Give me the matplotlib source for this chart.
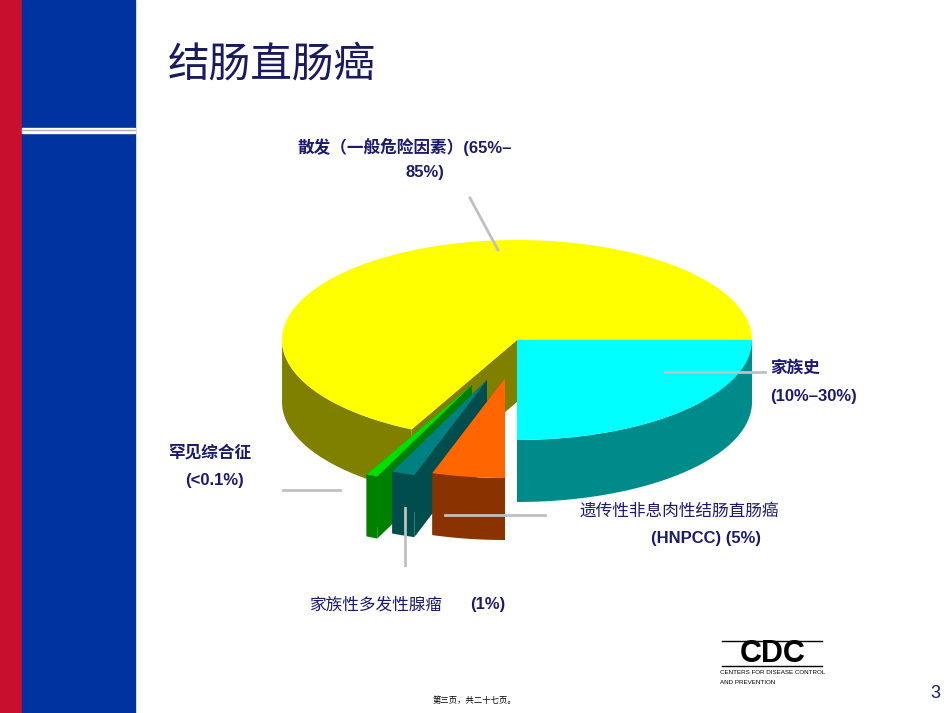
import matplotlib
matplotlib.use("Agg")
import matplotlib.pyplot as plt
import numpy as np
from matplotlib.patches import Polygon, Rectangle

plt.rcParams['font.family'] = ['Liberation Sans', 'Noto Sans CJK SC', 'DejaVu Sans']

# slice data (clockwise from 3 o'clock)
names = ['家族史', 'HNPCC', '家族性多发性腺瘤', '罕见综合征', '散发']
values = [25.0, 5.0, 1.6, 0.8, 67.6]
tops = ['#00FFFF', '#FF6600', '#008080', '#00E000', '#FFFF00']
sides = ['#008B8B', '#8B3300', '#004D4D', '#008000', '#808000']
offsets = [(0, 0), (-12, 38), (-30, 40), (-45, 45), (0, 0)]

fig = plt.figure(figsize=(9.5, 7.13), dpi=100)
ax = fig.add_axes([0, 0, 1, 1])
ax.set_xlim(0, 950)
ax.set_ylim(713, 0)
ax.axis('off')

# slide decoration
ax.add_patch(Rectangle((0, 0), 22, 713, color='#C8102E'))
ax.add_patch(Rectangle((22, 0), 113, 713, color='#0033A0'))
ax.add_patch(Rectangle((22, 128), 113, 5, color='white'))
ax.plot([22, 135], [130, 130], color='#B0B0B0', lw=1)
ax.text(168, 65, '结肠直肠癌', fontsize=30, color='#1A1A5E', va='center',
        family=['Noto Sans CJK SC'])

cx, cy, rx, ry, depth = 517, 340, 235, 100, 62

def pt(t, ox, oy, d=0):
    return (cx + ox + rx * np.cos(t), cy + oy - ry * np.sin(t) + d)

slices = []
start = 0.0
total = sum(values)
for v, top, side, off in zip(values, tops, sides, offsets):
    a1 = start - v / total * 2 * np.pi
    slices.append((start, a1, top, side, off))
    start = a1

def walls(a0, a1, side, ox, oy):
    ts = np.linspace(a0, a1, 200)
    c = (cx + ox, cy + oy)
    for t in (a0, a1):
        p = pt(t, ox, oy)
        ax.add_patch(Polygon([c, p, (p[0], p[1] + depth), (c[0], c[1] + depth)],
                             closed=True, fc=side, ec='none'))
    front = [t for t in ts if np.sin(t) <= 0]
    if front:
        upper = [pt(t, ox, oy) for t in front]
        lower = [pt(t, ox, oy, depth) for t in front[::-1]]
        ax.add_patch(Polygon(upper + lower, closed=True, fc=side, ec='none'))

def topface(a0, a1, top, ox, oy):
    ts = np.linspace(a0, a1, 200)
    c = (cx + ox, cy + oy)
    ax.add_patch(Polygon([c] + [pt(t, ox, oy) for t in ts], closed=True, fc=top, ec='none'))

# back, non-exploded slices first: yellow, cyan
for i in (4, 0):
    a0, a1, top, side, (ox, oy) = slices[i]
    walls(a0, a1, side, ox, oy)
for i in (4, 0):
    a0, a1, top, side, (ox, oy) = slices[i]
    topface(a0, a1, top, ox, oy)
# exploded small slices, left-most first
for i in (3, 2, 1):
    a0, a1, top, side, (ox, oy) = slices[i]
    walls(a0, a1, side, ox, oy)
    topface(a0, a1, top, ox, oy)

navy = '#1A1A6E'
grey = '#C0C0C0'
fs = 12
ax.text(298, 147, '散发（一般危险因素）(65%–', fontsize=fs, color=navy, weight='bold', va='center')
ax.text(425, 172, '85%)', fontsize=fs, color=navy, weight='bold', va='center', ha='center')
ax.plot([470, 498], [198, 250], color=grey, lw=2)

ax.text(770, 368, '家族史', fontsize=fs, color=navy, weight='bold', va='center')
ax.text(770, 397, '(10%–30%)', fontsize=fs, color=navy, weight='bold', va='center')
ax.plot([665, 765], [372, 372], color=grey, lw=2)

ax.text(580, 511, '遗传性非息肉性结肠直肠癌', fontsize=fs, color=navy, va='center')
ax.text(706, 538, '(HNPCC) (5%)', fontsize=fs, color=navy, weight='bold', va='center', ha='center')
ax.plot([445, 545], [515, 515], color=grey, lw=2)

ax.text(168, 453, '罕见综合征', fontsize=fs, color=navy, weight='bold', va='center')
ax.text(185, 480, '(<0.1%)', fontsize=fs, color=navy, weight='bold', va='center')
ax.plot([283, 340], [490, 490], color=grey, lw=2)

ax.text(310, 605, '家族性多发性腺瘤', fontsize=fs, color=navy, va='center')
ax.text(470, 605, '(1%)', fontsize=fs, color=navy, weight='bold', va='center')
ax.plot([405, 405], [508, 565], color=grey, lw=2)

# CDC logo
ax.text(773, 654, 'CDC', fontsize=22, color='black', weight='bold', ha='center', va='center')
ax.plot([722, 822], [641, 641], color='black', lw=1)
ax.plot([722, 822], [666, 666], color='black', lw=1)
ax.text(720, 673, 'CENTERS FOR DISEASE CONTROL', fontsize=4.5, color='black', va='center')
ax.text(720, 682, 'AND PREVENTION', fontsize=4.5, color='black', va='center')
ax.text(935, 693, '3', fontsize=13, color=navy, ha='center', va='center')
ax.text(475, 701, '第三页，共二十七页。', fontsize=6, color='black', ha='center', va='center')

fig.savefig('out.png', dpi=100)
